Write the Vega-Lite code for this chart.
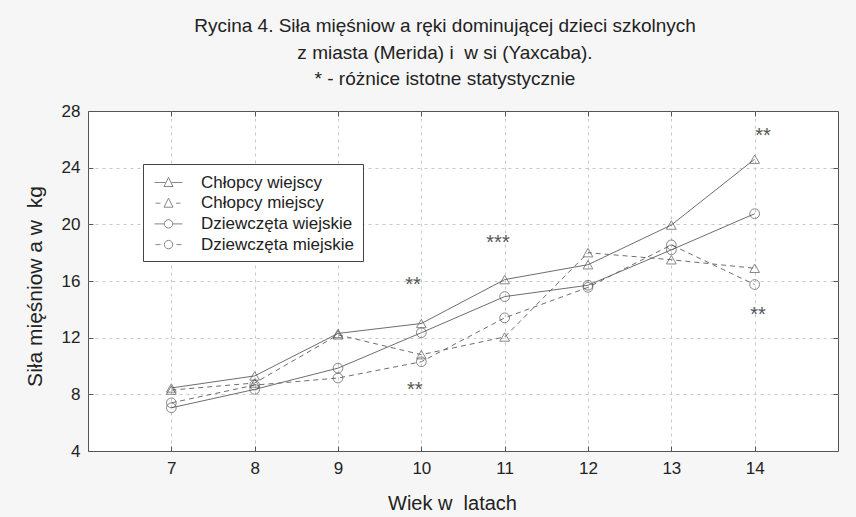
{
  "$schema": "https://vega.github.io/schema/vega-lite/v6.json",
  "width": 750,
  "height": 340,
  "autosize": {"type": "none"},
  "padding": {"left": 88, "top": 111, "right": 18, "bottom": 66},
  "background": "#f6f6f6",
  "config": {
    "font": "Liberation Sans",
    "view": {"stroke": "#555555", "fill": "white", "strokeWidth": 1}
  },
  "title": {
    "text": ["Rycina 4. Siła mięśniow a ręki dominującej dzieci szkolnych", "z miasta (Merida) i\u00a0 w si (Yaxcaba).", "* - różnice istotne statystycznie"],
    "font": "Liberation Sans",
    "fontSize": 19,
    "fontWeight": "normal",
    "color": "#222222",
    "lineHeight": 26.5,
    "anchor": "middle",
    "baseline": "bottom",
    "dx": -18,
    "dy": 28,
    "offset": 22
  },
  "datasets": {
    "pomiary": [
      {"grupa": "Chłopcy wiejscy", "wiek": 7, "sila": 8.45},
      {"grupa": "Chłopcy wiejscy", "wiek": 8, "sila": 9.3},
      {"grupa": "Chłopcy wiejscy", "wiek": 9, "sila": 12.3},
      {"grupa": "Chłopcy wiejscy", "wiek": 10, "sila": 13.0},
      {"grupa": "Chłopcy wiejscy", "wiek": 11, "sila": 16.1},
      {"grupa": "Chłopcy wiejscy", "wiek": 12, "sila": 17.15},
      {"grupa": "Chłopcy wiejscy", "wiek": 13, "sila": 19.95},
      {"grupa": "Chłopcy wiejscy", "wiek": 14, "sila": 24.6},
      {"grupa": "Chłopcy miejscy", "wiek": 7, "sila": 8.3},
      {"grupa": "Chłopcy miejscy", "wiek": 8, "sila": 8.8},
      {"grupa": "Chłopcy miejscy", "wiek": 9, "sila": 12.2},
      {"grupa": "Chłopcy miejscy", "wiek": 10, "sila": 10.8},
      {"grupa": "Chłopcy miejscy", "wiek": 11, "sila": 12.05},
      {"grupa": "Chłopcy miejscy", "wiek": 12, "sila": 18.0},
      {"grupa": "Chłopcy miejscy", "wiek": 13, "sila": 17.5},
      {"grupa": "Chłopcy miejscy", "wiek": 14, "sila": 16.9},
      {"grupa": "Dziewczęta wiejskie", "wiek": 7, "sila": 7.05},
      {"grupa": "Dziewczęta wiejskie", "wiek": 8, "sila": 8.35},
      {"grupa": "Dziewczęta wiejskie", "wiek": 9, "sila": 9.85},
      {"grupa": "Dziewczęta wiejskie", "wiek": 10, "sila": 12.35},
      {"grupa": "Dziewczęta wiejskie", "wiek": 11, "sila": 14.9},
      {"grupa": "Dziewczęta wiejskie", "wiek": 12, "sila": 15.7},
      {"grupa": "Dziewczęta wiejskie", "wiek": 13, "sila": 18.2},
      {"grupa": "Dziewczęta wiejskie", "wiek": 14, "sila": 20.75},
      {"grupa": "Dziewczęta miejskie", "wiek": 7, "sila": 7.4},
      {"grupa": "Dziewczęta miejskie", "wiek": 8, "sila": 8.65},
      {"grupa": "Dziewczęta miejskie", "wiek": 9, "sila": 9.15},
      {"grupa": "Dziewczęta miejskie", "wiek": 10, "sila": 10.3},
      {"grupa": "Dziewczęta miejskie", "wiek": 11, "sila": 13.4},
      {"grupa": "Dziewczęta miejskie", "wiek": 12, "sila": 15.55},
      {"grupa": "Dziewczęta miejskie", "wiek": 13, "sila": 18.55},
      {"grupa": "Dziewczęta miejskie", "wiek": 14, "sila": 15.75}
    ],
    "gwiazdki": [
      {"wiek": 9.9, "sila": 15.95, "znak": "**"},
      {"wiek": 9.92, "sila": 8.55, "znak": "**"},
      {"wiek": 10.92, "sila": 18.9, "znak": "***"},
      {"wiek": 14.1, "sila": 26.45, "znak": "**"},
      {"wiek": 14.04, "sila": 13.8, "znak": "**"}
    ]
  },
  "layer": [
    {
      "data": {"name": "pomiary"},
      "transform": [{"filter": {"field": "grupa", "oneOf": ["Chłopcy wiejscy", "Dziewczęta wiejskie"]}}],
      "mark": {"type": "line", "color": "#6e6e6e", "strokeWidth": 1},
      "encoding": {
        "x": {
          "field": "wiek", "type": "quantitative",
          "scale": {"domain": [6, 15], "nice": false, "zero": false},
          "axis": {
            "title": "Wiek w\u00a0 latach", "values": [7, 8, 9, 10, 11, 12, 13, 14], "format": "d",
            "domain": false, "tickSize": -5, "tickColor": "#555555",
            "grid": true, "gridColor": "#c8c8c8", "gridDash": [3, 4],
            "labelFontSize": 17, "labelColor": "#222222", "labelPadding": 14,
            "titleFontSize": 20, "titleFontWeight": "normal", "titleColor": "#222222", "titlePadding": 17, "titleX": 364
          }
        },
        "y": {
          "field": "sila", "type": "quantitative",
          "scale": {"domain": [4, 28], "nice": false, "zero": false},
          "axis": {
            "title": "Siła mięśniow a w\u00a0 kg", "values": [4, 8, 12, 16, 20, 24, 28], "format": "d",
            "domain": false, "tickSize": -5, "tickColor": "#555555",
            "grid": true, "gridDash": [3, 4],
            "gridColor": {"condition": {"test": "datum.value === 4 || datum.value === 28", "value": "transparent"}, "value": "#c8c8c8"},
            "labelFontSize": 17, "labelColor": "#222222", "labelPadding": 13,
            "titleFontSize": 21, "titleFontWeight": "normal", "titleColor": "#222222", "titlePadding": 16, "titleY": 175
          }
        },
        "detail": {"field": "grupa", "type": "nominal"}
      }
    },
    {
      "data": {"name": "pomiary"},
      "transform": [{"filter": {"field": "grupa", "oneOf": ["Chłopcy miejscy", "Dziewczęta miejskie"]}}],
      "mark": {"type": "line", "color": "#6e6e6e", "strokeWidth": 1, "strokeDash": [5, 4]},
      "encoding": {
        "x": {"field": "wiek", "type": "quantitative", "axis": null},
        "y": {"field": "sila", "type": "quantitative", "axis": null},
        "detail": {"field": "grupa", "type": "nominal"}
      }
    },
    {
      "data": {"name": "pomiary"},
      "transform": [{"filter": {"field": "grupa", "oneOf": ["Chłopcy wiejscy", "Chłopcy miejscy"]}}],
      "mark": {"type": "point", "shape": "triangle-up", "filled": false, "color": "#555555", "size": 95, "strokeWidth": 1},
      "encoding": {
        "x": {"field": "wiek", "type": "quantitative", "axis": null},
        "y": {"field": "sila", "type": "quantitative", "axis": null}
      }
    },
    {
      "data": {"name": "pomiary"},
      "transform": [{"filter": {"field": "grupa", "oneOf": ["Dziewczęta wiejskie", "Dziewczęta miejskie"]}}],
      "mark": {"type": "point", "shape": "circle", "filled": false, "color": "#555555", "size": 95, "strokeWidth": 1},
      "encoding": {
        "x": {"field": "wiek", "type": "quantitative", "axis": null},
        "y": {"field": "sila", "type": "quantitative", "axis": null}
      }
    },
    {
      "data": {"name": "pomiary"},
      "transform": [{"filter": "false"}],
      "mark": {"type": "point", "filled": false, "color": "#555555", "strokeWidth": 1},
      "encoding": {
        "x": {"field": "wiek", "type": "quantitative", "axis": null},
        "y": {"field": "sila", "type": "quantitative", "axis": null},
        "shape": {
          "field": "grupa", "type": "nominal",
          "scale": {
            "domain": ["Chłopcy wiejscy", "Chłopcy miejscy", "Dziewczęta wiejskie", "Dziewczęta miejskie"],
            "range": ["M-1.4,0H-0.3M0.3,0H1.4M0,-0.5L0.45,0.4H-0.45Z", "M-1.3,0H-0.8M0.75,0H1.2M0,-0.5L0.45,0.4H-0.45Z", "M-1.4,0H-0.42M0.42,0H1.4M0.42,0A0.42,0.42 0 1,1 -0.42,0A0.42,0.42 0 1,1 0.42,0", "M-1.3,0H-0.8M0.8,0H1.3M0.42,0A0.42,0.42 0 1,1 -0.42,0A0.42,0.42 0 1,1 0.42,0"]
          },
          "legend": {
            "orient": "none", "legendX": 55, "legendY": 53, "title": null,
            "symbolSize": 400, "symbolStrokeColor": "#555555", "symbolFillColor": "transparent", "symbolStrokeWidth": 1,
            "symbolOffset": 7,
            "labelFontSize": 17, "labelColor": "#222222", "labelOffset": 22, "labelLimit": 300,
            "padding": 8, "rowPadding": 1.7,
            "fillColor": "white", "strokeColor": "#444444"
          }
        }
      }
    },
    {
      "data": {"name": "gwiazdki"},
      "mark": {"type": "text", "fontSize": 20, "color": "#555555", "align": "center", "baseline": "middle", "dy": 3},
      "encoding": {
        "x": {"field": "wiek", "type": "quantitative", "axis": null},
        "y": {"field": "sila", "type": "quantitative", "axis": null},
        "text": {"field": "znak", "type": "nominal"}
      }
    },
    {
      "data": {"name": "pomiary"},
      "mark": {"type": "point", "opacity": 0},
      "encoding": {
        "x": {"field": "wiek", "type": "quantitative",
          "axis": {"orient": "top", "title": null, "labels": false, "grid": false, "domain": false, "values": [7, 8, 9, 10, 11, 12, 13, 14], "tickSize": -5, "tickColor": "#555555"}},
        "y": {"field": "sila", "type": "quantitative",
          "axis": {"orient": "right", "title": null, "labels": false, "grid": false, "domain": false, "values": [8, 12, 16, 20, 24], "tickSize": -5, "tickColor": "#555555"}}
      }
    }
  ],
  "resolve": {"axis": {"x": "independent", "y": "independent"}}
}
